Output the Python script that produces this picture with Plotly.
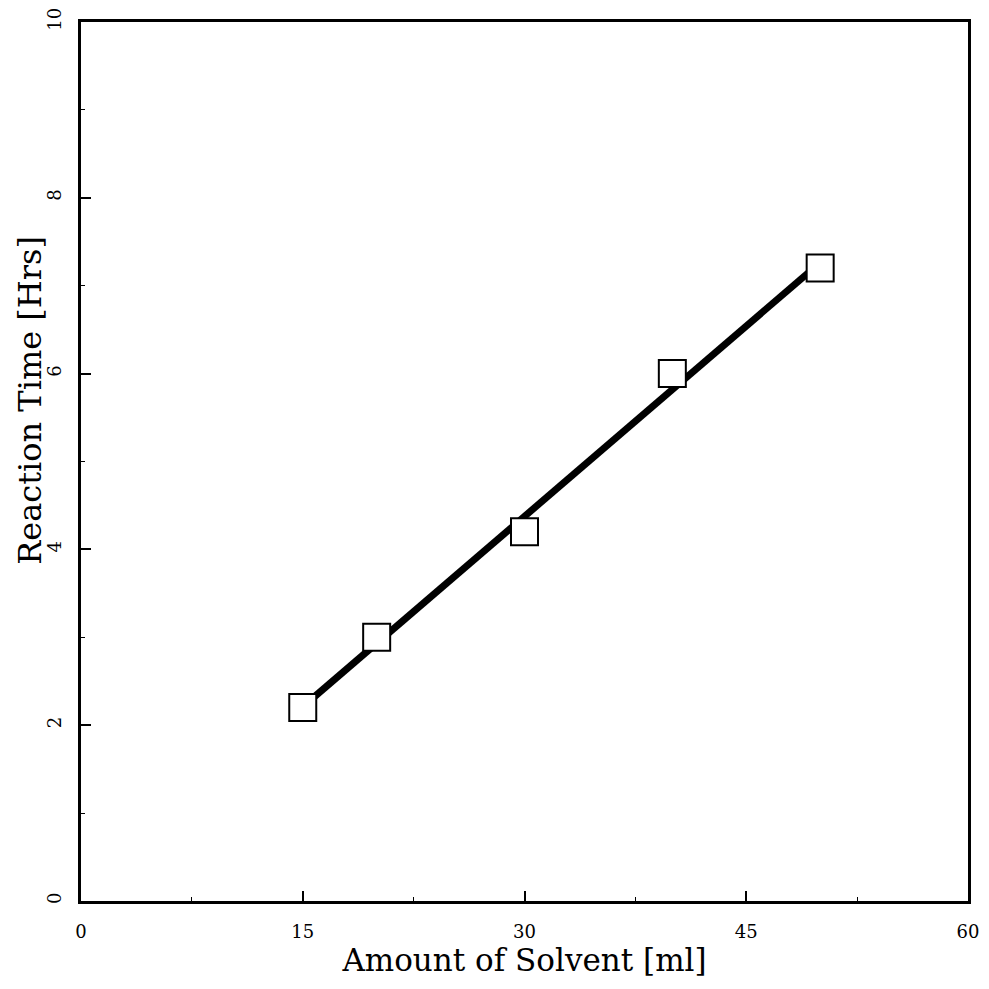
import numpy as np
import plotly.graph_objects as go

solvent_ml = [15, 20, 30, 40, 50]
reaction_hrs = [2.2, 3.0, 4.2, 6.0, 7.2]
x_ticks = [0, 15, 30, 45, 60]
y_ticks = [0, 2, 4, 6, 8, 10]

slope, intercept = np.polyfit(solvent_ml, reaction_hrs, 1)
fit_x = [min(solvent_ml), max(solvent_ml)]
fit_y = [slope * v + intercept for v in fit_x]

fig = go.Figure()
fig.add_trace(go.Scatter(x=fit_x, y=fit_y, mode="lines",
                         line=dict(color="black", width=7), showlegend=False))
fig.add_trace(go.Scatter(x=solvent_ml, y=reaction_hrs, mode="markers",
                         marker=dict(symbol="square", size=27, color="white",
                                     line=dict(color="black", width=2)),
                         showlegend=False))

font_family = "DejaVu Serif"
fig.update_layout(
    width=981, height=981,
    margin=dict(l=73, r=21, t=14, b=88),
    plot_bgcolor="white", paper_bgcolor="white",
    font=dict(family=font_family, color="black"),
    annotations=[dict(
        text="Reaction Time [Hrs]", textangle=-90,
        xref="paper", yref="paper", x=0, y=0.569,
        xanchor="center", yanchor="middle", xshift=-51,
        showarrow=False, font=dict(size=32, family=font_family),
    )],
)
fig.update_xaxes(
    range=[0, 60], tickvals=x_ticks, ticktext=[str(v) for v in x_ticks],
    automargin=False, ticklabeloverflow="allow",
    showgrid=False, zeroline=False, showline=True, mirror=True,
    linecolor="black", linewidth=3, ticks="inside", ticklen=10, tickwidth=1.5,
    tickcolor="black", tickfont=dict(size=18), ticklabelstandoff=12,
    minor=dict(ticks="inside", ticklen=4, dtick=7.5, tickcolor="black", tickwidth=1),
    title=dict(text="Amount of Solvent [ml]", font=dict(size=31), standoff=0),
)
fig.update_yaxes(
    range=[0, 10], tickvals=y_ticks, ticktext=[str(v) for v in y_ticks],
    automargin=False, ticklabeloverflow="allow",
    showgrid=False, zeroline=False, showline=True, mirror=True,
    linecolor="black", linewidth=3, ticks="inside", ticklen=10, tickwidth=1.5,
    tickcolor="black", tickfont=dict(size=18), tickangle=-90, ticklabelstandoff=10,
    minor=dict(ticks="inside", ticklen=4, dtick=1, tickcolor="black", tickwidth=1),
)
fig.write_html("out.html", post_script="document.body.style.overflow='hidden';")
